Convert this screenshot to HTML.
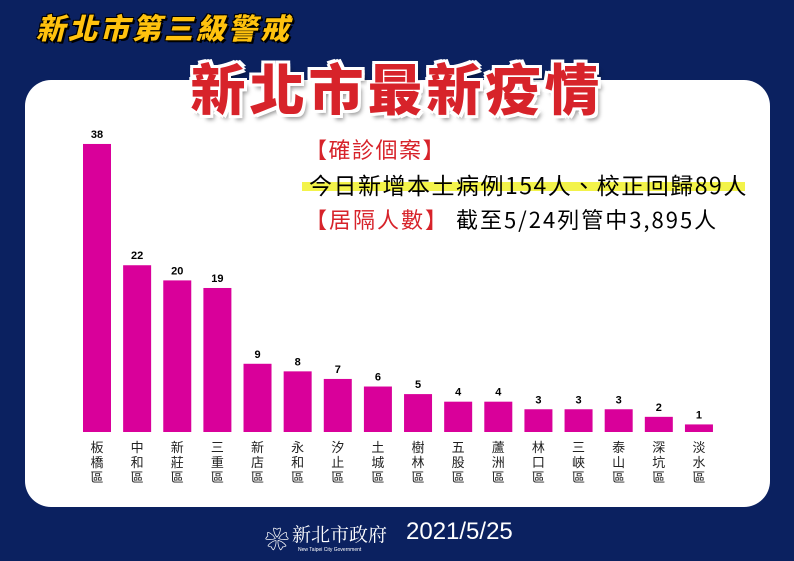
<!DOCTYPE html>
<html><head><meta charset="utf-8"><style>
body{margin:0;width:794px;height:561px;overflow:hidden;background:#0b2160;font-family:"Liberation Sans","Noto Sans CJK TC",sans-serif;position:relative}
.abs{position:absolute;white-space:nowrap}
</style></head><body>
<div class="abs" style="left:36px;top:6px;font-size:29px;letter-spacing:3px;font-weight:900;font-style:italic;color:#ffc20e;text-shadow:2px 2px 0 #000,-1px -1px 0 #000,1px -1px 0 #000,-1px 1px 0 #000;font-family:'Noto Sans CJK TC',sans-serif">新北市第三級警戒</div>
<div style="position:absolute;left:25px;top:80px;width:745px;height:427px;background:#fff;border-radius:26px"></div>
<div class="abs" style="left:0;width:794px;text-align:center;top:50px;font-size:55px;letter-spacing:4px;font-weight:900;color:#d7232a;font-family:'Noto Sans CJK TC',sans-serif;line-height:72px;text-shadow:-3px -3px 0 #fff,3px -3px 0 #fff,-3px 3px 0 #fff,3px 3px 0 #fff,0 3px 0 #fff,0 -3px 0 #fff,3px 0 0 #fff,-3px 0 0 #fff,4px 5px 4px rgba(0,0,0,.4)">新北市最新疫情</div>
<div class="abs" style="left:302px;top:182px;width:443px;height:9px;background:#f3f34a"></div>
<div class="abs" style="left:305px;top:133px;font-size:22px;letter-spacing:1.5px;color:#d7232a;font-family:'Noto Sans CJK TC',sans-serif">【確診個案】</div>
<div class="abs" style="left:309px;top:167px;font-size:23px;letter-spacing:1.5px;color:#000;font-family:'Noto Sans CJK TC',sans-serif">今日新增本土病例154人、校正回歸89人</div>
<div class="abs" style="left:305px;top:203px;font-size:22px;letter-spacing:2px;color:#000;font-family:'Noto Sans CJK TC',sans-serif"><span style="color:#d7232a">【居隔人數】</span> 截至5/24列管中3,895人</div>
<svg id="chart" width="794" height="561" style="position:absolute;left:0;top:0"></svg>
<div class="abs" style="left:265px;top:520px;font-size:24px;color:#fff">❀</div>
<div class="abs" style="left:292px;top:520px;font-size:19px;color:#fff;font-family:'Noto Serif CJK SC',serif">新北市政府</div>
<div class="abs" style="left:298px;top:547px;font-size:5px;color:#fff">New Taipei City Government</div>
<div class="abs" style="left:406px;top:518px;font-size:24px;color:#fff">2021/5/25</div>
<script>
const categories=["板橋區","中和區","新莊區","三重區","新店區","永和區","汐止區","土城區","樹林區","五股區","蘆洲區","林口區","三峽區","泰山區","深坑區","淡水區"];
const values=[38,22,20,19,9,8,7,6,5,4,4,3,3,3,2,1];
const svg=document.getElementById('chart');
const NS='http://www.w3.org/2000/svg';
const baseY=432, pxPer=7.58, x0=83, step=40.13, bw=28;
const x=i=>x0+i*step;
const y=v=>baseY-v*pxPer;
values.forEach((v,i)=>{
  const r=document.createElementNS(NS,'rect');
  r.setAttribute('x',x(i));r.setAttribute('y',y(v));r.setAttribute('width',bw);r.setAttribute('height',baseY-y(v));r.setAttribute('fill','#d9009a');
  
  
  svg.appendChild(r);
  const t=document.createElementNS(NS,'text');
  t.setAttribute('x',x(i)+bw/2);t.setAttribute('y',y(v)-6);t.setAttribute('text-anchor','middle');t.setAttribute('font-size','11');t.setAttribute('font-weight','bold');t.setAttribute('font-family','Liberation Sans, sans-serif');
  t.textContent=v;
  
  
  svg.appendChild(t);
  [...categories[i]].forEach((c,j)=>{
    const l=document.createElementNS(NS,'text');
    l.setAttribute('x',x(i)+bw/2);l.setAttribute('y',452+j*15);l.setAttribute('text-anchor','middle');l.setAttribute('font-size','13');l.setAttribute('fill','#222');l.setAttribute('font-family','Noto Sans CJK TC, sans-serif');
    l.textContent=c;
    
    
    svg.appendChild(l);
  });
});
</script>
</body></html>
